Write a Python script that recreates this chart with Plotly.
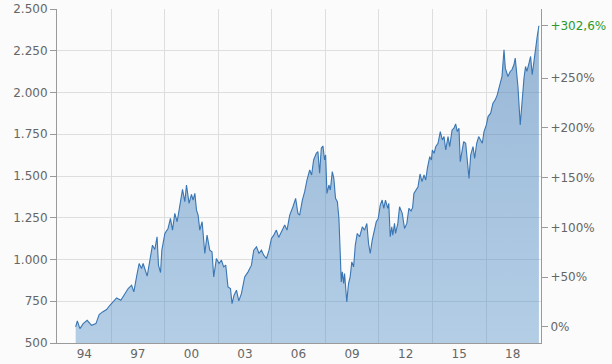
import plotly.graph_objects as go

# ---- data (index level, weekly-ish samples) ----
dates = [
    "1994-01-06", "1994-02-09", "1994-04-03", "1994-06-09", "1994-08-29", "1994-11-27",
    "1995-02-24", "1995-05-02", "1995-07-10", "1995-10-01", "1995-12-07",
    "1996-02-13", "1996-04-22", "1996-07-18", "1996-10-09", "1996-12-15",
    "1997-02-23", "1997-04-10", "1997-06-04", "1997-07-27", "1997-09-15", "1997-10-17",
    "1998-01-08", "1998-03-03", "1998-04-26", "1998-06-13", "1998-07-29", "1998-08-27",
    "1998-10-08", "1998-11-04",
    "1999-01-05", "1999-03-11", "1999-04-29", "1999-06-10", "1999-07-27", "1999-09-13",
    "1999-11-21",
    "2000-01-01", "2000-02-17", "2000-03-22", "2000-05-14", "2000-07-02", "2000-08-04",
    "2000-09-09", "2000-10-13", "2000-11-15", "2000-12-19",
    "2001-02-05", "2001-04-01", "2001-05-17", "2001-07-11", "2001-08-26", "2001-09-30",
    "2001-11-24",
    "2002-01-17", "2002-03-07", "2002-04-22", "2002-06-03", "2002-07-19", "2002-09-08",
    "2002-10-10", "2002-11-20",
    "2003-01-09", "2003-02-25", "2003-04-20", "2003-06-26", "2003-09-03", "2003-11-11",
    "2003-12-28",
    "2004-02-22", "2004-04-14", "2004-06-02", "2004-07-19", "2004-09-13", "2004-11-05",
    "2004-12-24",
    "2005-02-10", "2005-04-04", "2005-05-21", "2005-07-15", "2005-09-22", "2005-11-08",
    "2006-01-02", "2006-03-09", "2006-05-03", "2006-06-19", "2006-07-24", "2006-09-18",
    "2006-11-04", "2006-12-21",
    "2007-02-15", "2007-03-26", "2007-05-06", "2007-06-30", "2007-08-02", "2007-09-06",
    "2007-10-10", "2007-11-12", "2007-12-17",
    "2008-01-07", "2008-02-03", "2008-03-14", "2008-04-12", "2008-05-22", "2008-06-23",
    "2008-07-27", "2008-09-03", "2008-10-05", "2008-11-03", "2008-11-22", "2008-12-13",
    "2009-01-09", "2009-01-28", "2009-02-19", "2009-03-15", "2009-04-19", "2009-05-23",
    "2009-06-25", "2009-08-01", "2009-09-05", "2009-10-15", "2009-12-02",
    "2010-01-26", "2010-03-13", "2010-04-29", "2010-06-03", "2010-07-07", "2010-08-17",
    "2010-09-19", "2010-11-08", "2010-12-18",
    "2011-01-28", "2011-03-09", "2011-04-11", "2011-05-15", "2011-07-02", "2011-07-22",
    "2011-08-20", "2011-09-21", "2011-10-12", "2011-11-16", "2011-12-07",
    "2012-01-23", "2012-02-27", "2012-04-22", "2012-06-08", "2012-07-25", "2012-09-05",
    "2012-10-20", "2012-11-20", "2012-12-17",
    "2013-02-06", "2013-03-11", "2013-04-21", "2013-06-01", "2013-07-12", "2013-08-16",
    "2013-09-18", "2013-11-06", "2013-12-09", "2013-12-29",
    "2014-02-03", "2014-03-08", "2014-04-24", "2014-06-10", "2014-07-21", "2014-08-25",
    "2014-09-29", "2014-11-15", "2014-12-19",
    "2015-02-06", "2015-03-16", "2015-04-20", "2015-05-23", "2015-06-27", "2015-07-23",
    "2015-08-27", "2015-10-01", "2015-11-11", "2015-12-14",
    "2016-01-18", "2016-02-22", "2016-04-09", "2016-05-13", "2016-06-23", "2016-08-03",
    "2016-09-14", "2016-10-16", "2016-11-20",
    "2017-01-07", "2017-02-11", "2017-04-05", "2017-05-22", "2017-07-08", "2017-08-18",
    "2017-10-07", "2017-11-23",
    "2018-01-03", "2018-01-30", "2018-03-24", "2018-05-10", "2018-06-14", "2018-07-25",
    "2018-08-21", "2018-09-19", "2018-10-15", "2018-12-01",
    "2019-01-06", "2019-02-16", "2019-03-20", "2019-04-16", "2019-05-21", "2019-07-01",
    "2019-08-03", "2019-09-07", "2019-10-11", "2019-11-14", "2019-12-18",
]
values = [
    596, 632, 586, 616, 636, 606,
    616, 670, 686, 700, 726,
    746, 770, 756, 796, 826,
    846, 806, 896, 976, 946, 976,
    900, 1006, 1086, 1060, 1136, 966,
    922, 1056,
    1156, 1186, 1246, 1176, 1276, 1226,
    1356,
    1420, 1346, 1446, 1336, 1390, 1356,
    1396, 1296, 1266, 1176,
    1226, 1036, 1146, 1056, 1046, 896,
    1006,
    976, 996, 956, 966, 836, 826,
    736, 786,
    816, 752, 796, 896, 926, 966,
    1056,
    1076, 1036, 1056, 1026, 1006, 1056,
    1126,
    1146, 1176, 1132, 1166, 1206, 1176,
    1266, 1316, 1366, 1276, 1266, 1356,
    1406, 1476,
    1536, 1506, 1596, 1636, 1646, 1516,
    1666, 1680, 1596,
    1626, 1396, 1446, 1416, 1526, 1486,
    1366, 1346, 1246, 956, 866, 926,
    856, 916, 836, 746, 856, 896,
    986, 956, 1086, 1156, 1136,
    1196, 1176, 1216, 1096, 1036, 1116,
    1166, 1226, 1246,
    1326, 1356, 1306, 1356, 1306, 1336,
    1136, 1196, 1146, 1216, 1156,
    1216, 1316, 1276, 1186, 1216, 1306,
    1290, 1310, 1396,
    1426, 1436, 1512, 1466, 1506, 1476,
    1546, 1616, 1596, 1656,
    1636, 1676, 1696, 1766, 1716, 1736,
    1656, 1736, 1676,
    1776, 1786, 1812, 1766, 1786, 1586,
    1636, 1706, 1696, 1596,
    1486, 1626, 1676, 1606, 1696, 1736,
    1716, 1696, 1766,
    1806, 1856, 1876, 1936, 1956, 1986,
    2036, 2096,
    2256, 2146, 2096, 2126, 2136, 2166,
    2206, 2116, 2036, 1806,
    1956, 2086, 2156, 2126, 2166, 2216,
    2106, 2196, 2266, 2336, 2399.5,
]

left_ticks = [500, 750, 1000, 1250, 1500, 1750, 2000, 2250, 2500]
left_labels = ["500", "750", "1.000", "1.250", "1.500", "1.750", "2.000", "2.250", "2.500"]
pct_ticks = [0, 50, 100, 150, 200, 250]
pct_labels = ["0%", "+50%", "+100%", "+150%", "+200%", "+250%"]
x_tick_dates = ["1994-07-01", "1997-07-01", "2000-07-01", "2003-07-01", "2006-07-01",
                "2009-07-01", "2012-07-01", "2015-07-01", "2018-07-01"]
x_tick_labels = ["94", "97", "00", "03", "06", "09", "12", "15", "18"]
x_grid_dates = ["1996-01-01", "1999-01-01", "2002-01-01", "2005-01-01", "2008-01-01",
                "2011-01-01", "2014-01-01", "2017-01-01"]

base = values[0]
perf = (values[-1] / base - 1) * 100
perf_text = ("+%.1f%%" % perf).replace(".", ",")

y_min, y_max = 500, 2500
pct_range = [(y_min / base - 1) * 100, (y_max / base - 1) * 100]

FONT = "DejaVu Sans"
TXT = "#666666"
AX = "#9a9a9a"
GRID = "#dedede"

fig = go.Figure()
fig.add_trace(go.Scatter(
    x=dates, y=values, mode="lines",
    line=dict(color="#3a76b3", width=1.1),
    fill="tozeroy",
    fillgradient=dict(
        type="vertical", start=y_min, stop=y_max,
        colorscale=[[0, "rgba(72,137,197,0.40)"], [1, "rgba(72,128,184,0.56)"]],
    ),
    hoverinfo="skip", showlegend=False,
))
# invisible trace for right axis
fig.add_trace(go.Scatter(x=[dates[0]], y=[0], yaxis="y2", mode="markers",
                         marker=dict(opacity=0), hoverinfo="skip", showlegend=False))

fig.update_layout(
    width=612, height=364,
    margin=dict(l=57, r=71, t=9, b=21, autoexpand=False),
    paper_bgcolor="#fbfbfb", plot_bgcolor="#fbfbfb",
    font=dict(family=FONT, size=12, color=TXT),
    xaxis=dict(
        type="date", range=["1992-12-20", "2020-01-30"], automargin=False,
        tickmode="array", tickvals=x_tick_dates, ticktext=x_tick_labels,
        showgrid=False, ticks="", showline=True, linecolor=AX, linewidth=1,
        tickfont=dict(family=FONT, size=12, color=TXT),
        minor=dict(tickmode="array", tickvals=x_grid_dates, showgrid=True,
                   gridcolor=GRID, gridwidth=1, ticks=""),
        zeroline=False,
    ),
    yaxis=dict(
        range=[y_min, y_max], tickmode="array", tickvals=left_ticks, ticktext=left_labels,
        automargin=False,
        showgrid=True, gridcolor=GRID, gridwidth=1, zeroline=False,
        ticks="outside", ticklen=6, tickcolor=AX, tickwidth=1,
        showline=True, linecolor=AX, linewidth=1,
        tickfont=dict(family=FONT, size=12, color=TXT),
    ),
    yaxis2=dict(
        overlaying="y", side="right", range=pct_range, automargin=False,
        tickmode="array", tickvals=pct_ticks + [perf],
        ticktext=pct_labels + ['<span style="color:#2a9a2a">%s</span>' % perf_text],
        showgrid=False, zeroline=False,
        ticks="outside", ticklen=6, tickcolor=AX, tickwidth=1,
        showline=True, linecolor=AX, linewidth=1,
        tickfont=dict(family=FONT, size=12, color=TXT),
    ),
)

fig.write_html("out.html")
